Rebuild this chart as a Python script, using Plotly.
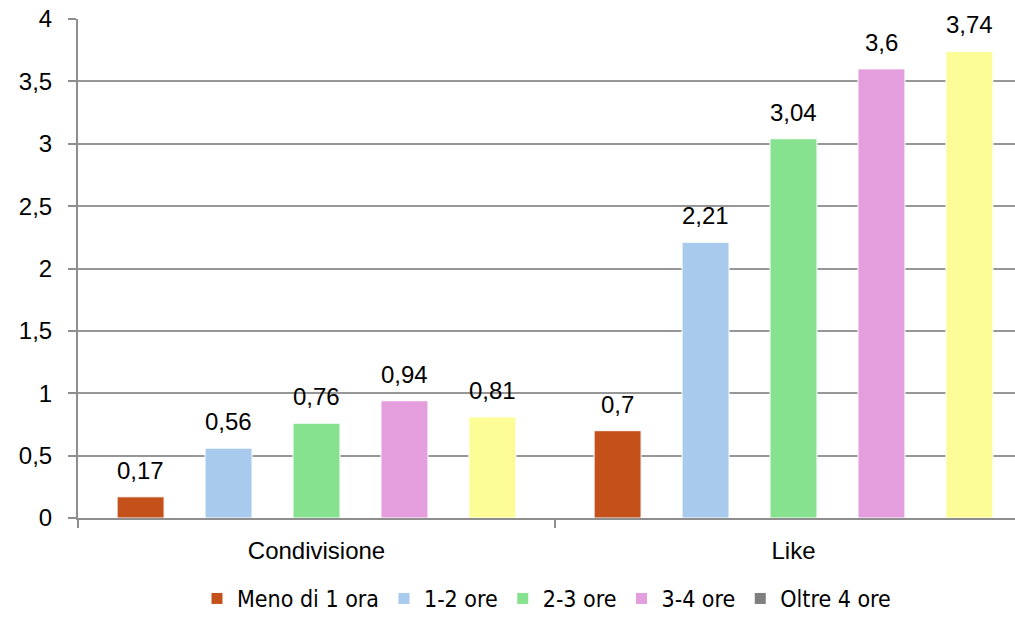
import plotly.graph_objects as go

# Data
categories = ["Condivisione", "Like"]
series_names = ["Meno di 1 ora", "1-2 ore", "2-3 ore", "3-4 ore", "Oltre 4 ore"]
meno_1_ora = [0.17, 0.7]
ore_1_2 = [0.56, 2.21]
ore_2_3 = [0.76, 3.04]
ore_3_4 = [0.94, 3.6]
oltre_4_ore = [0.81, 3.74]
series_values = [meno_1_ora, ore_1_2, ore_2_3, ore_3_4, oltre_4_ore]
y_ticks = [0, 0.5, 1, 1.5, 2, 2.5, 3, 3.5, 4]

# Styles
bar_colors = ["#C4511A", "#A8CAEC", "#86E28F", "#E49EDD", "#FDFD97"]
legend_colors = ["#C4511A", "#A8CAEC", "#86E28F", "#E49EDD", "#7F7F7F"]
grid_color = "#979797"
axis_color = "#8E8E8E"
label_font = dict(family="Liberation Sans, Arial, sans-serif", size=24, color="#000000")
legend_font = dict(family="DejaVu Sans Condensed, Liberation Sans Narrow, sans-serif",
                   size=23, color="#000000")

BARGAP = 0.078
BARGROUPGAP = 0.466
n = len(series_names)
slot = (1 - BARGAP) / n

fig = go.Figure()

for i, (name, vals) in enumerate(zip(series_names, series_values)):
    fig.add_trace(go.Bar(
        x=categories, y=vals, name=name,
        marker=dict(color=bar_colors[i], line=dict(color="#FFFFFF", width=1)),
        showlegend=False, hoverinfo="x+y+name",
    ))
    # value labels above bars
    for c, v in enumerate(vals):
        xpos = c + (i - (n - 1) / 2) * slot
        fig.add_annotation(
            x=xpos, y=v, xref="x", yref="y",
            text=f"{v:g}".replace(".", ","),
            showarrow=False, yanchor="bottom", yshift=11,
            font=label_font,
        )

# legend entries
for name, col in zip(series_names, legend_colors):
    fig.add_trace(go.Scatter(
        x=[None], y=[None], mode="markers", name=name,
        marker=dict(symbol="square", size=11, color=col),
        showlegend=True,
    ))

fig.update_layout(
    width=1015, height=620,
    margin=dict(l=78, r=0, t=19, b=102, autoexpand=False),
    paper_bgcolor="#FFFFFF", plot_bgcolor="#FFFFFF",
    barmode="group", bargap=BARGAP, bargroupgap=BARGROUPGAP,
    separators=",.",
    font=label_font,
    legend=dict(
        orientation="h", x=0.5, xanchor="center",
        yref="container", y=-0.009, yanchor="bottom",
        font=legend_font, itemwidth=30, tracegroupgap=0,
    ),
)

fig.update_xaxes(
    type="category",
    range=[-0.5, 1.5 - 17 / 477],
    showline=True, linecolor=axis_color, linewidth=2,
    ticks="outside", tickson="boundaries", ticklen=8, tickwidth=2, tickcolor=axis_color,
    tickfont=label_font, ticklabelstandoff=10,
    showgrid=False, zeroline=False,
)

fig.update_yaxes(
    range=[0, 4], tickvals=y_ticks,
    showline=True, linecolor=axis_color, linewidth=2,
    ticks="outside", ticklen=8, tickwidth=2, tickcolor=axis_color,
    tickfont=label_font, ticklabelstandoff=11,
    showgrid=True, gridcolor=grid_color, gridwidth=1.5,
    zeroline=False,
)

fig.write_html("out.html")
